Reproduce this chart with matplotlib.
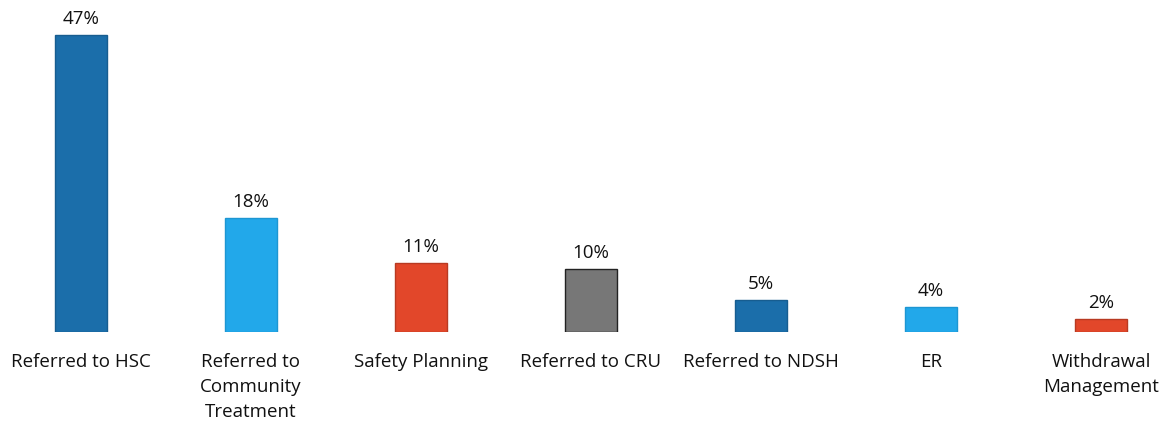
import matplotlib.pyplot as plt

categories = ["Referred to HSC", "Referred to\nCommunity\nTreatment", "Safety Planning",
              "Referred to CRU", "Referred to NDSH", "ER", "Withdrawal\nManagement"]
values = [47, 18, 11, 10, 5, 4, 2]
colors = ["#1b6eaa", "#22a8ea", "#e2472a", "#777777", "#1b6eaa", "#22a8ea", "#e2472a"]
edges = ["#175d90", "#1d96d2", "#b83a22", "#222222", "#175d90", "#1d96d2", "#b83a22"]

plt.rcParams['font.family'] = ['Open Sans', 'DejaVu Sans']

fig = plt.figure(figsize=(11.67, 4.25), dpi=100)
ax = fig.add_axes([0, 0.219, 1, 0.781])

x = list(range(len(values)))
bars = ax.bar(x, values, width=0.31, color=colors, edgecolor=edges, linewidth=1)

for b, v in zip(bars, values):
    ax.annotate(str(v) + "%", (b.get_x() + b.get_width() / 2, v), xytext=(0, 5),
                textcoords="offset points", ha="center", va="bottom",
                fontsize=13.5, color="#111111")

ax.set_xlim(-0.476, 6.388)
ax.set_ylim(0, 52.6)
ax.set_xticks(x)
ax.set_xticklabels(categories, fontsize=13.5, color="#111111", linespacing=1.5, va="top")
ax.tick_params(axis="x", length=0, pad=15)
ax.set_yticks([])
for s in ax.spines.values():
    s.set_visible(False)

fig.savefig("out.png", dpi=100)
